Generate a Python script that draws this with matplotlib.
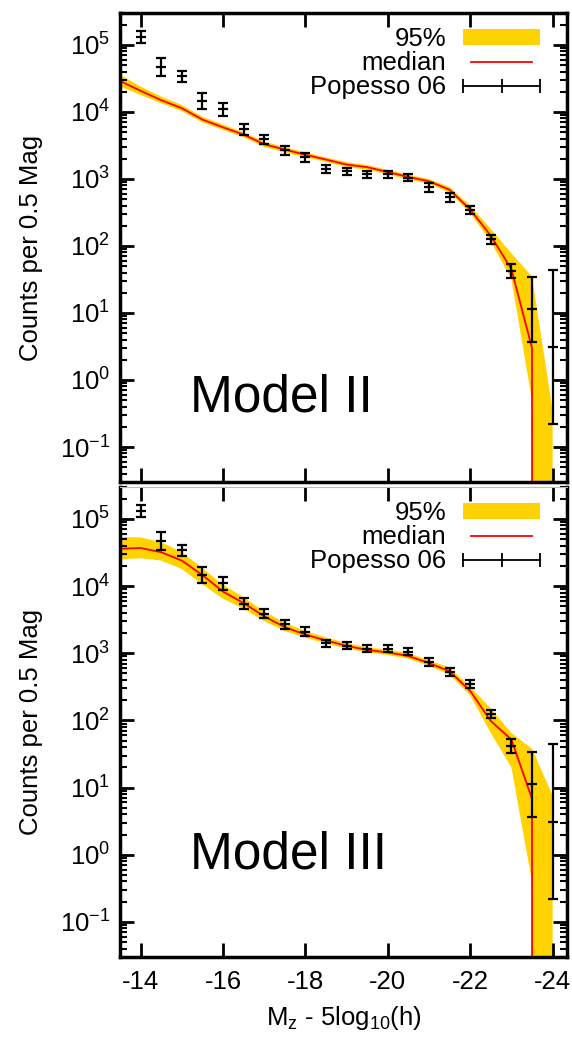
import numpy as np
import matplotlib
matplotlib.use("Agg")
import matplotlib.pyplot as plt
from matplotlib.patches import Patch
from matplotlib.lines import Line2D
from matplotlib.legend_handler import HandlerLine2D
from matplotlib.ticker import LogLocator, FixedLocator, NullFormatter

plt.rcParams['font.family'] = ['Liberation Sans', 'DejaVu Sans']
plt.rcParams['mathtext.fontset'] = 'custom'
plt.rcParams['mathtext.rm'] = 'Liberation Sans'
plt.rcParams['mathtext.it'] = 'Liberation Sans:italic'
plt.rcParams['mathtext.bf'] = 'Liberation Sans:bold'
plt.rcParams['axes.unicode_minus'] = False

# --- model luminosity functions (95% band + median) ---
model_mag = [-13.5, -14.0, -14.5, -15.0, -15.5, -16.0, -16.5, -17.0, -17.5, -18.0, -18.5,
             -19.0, -19.5, -20.0, -20.5, -21.0, -21.5, -22.0, -22.5, -23.0, -23.5, -24.0]

m2_lo = [2.4e4, 1.8e4, 1.35e4, 1.03e4, 7.0e3, 5.4e3, 4.2e3, 3.0e3, 2.5e3, 2.1e3, 1.8e3,
         1.5e3, 1.38e3, 1.17e3, 980, 850, 630, 310, 115, 32, 0.5, 0]
m2_med = [2.9e4, 2.07e4, 1.5e4, 1.14e4, 7.7e3, 5.9e3, 4.6e3, 3.3e3, 2.75e3, 2.3e3, 1.95e3,
          1.64e3, 1.5e3, 1.27e3, 1.07e3, 925, 690, 350, 142, 45, 3.0, 0]
m2_hi = [3.6e4, 2.4e4, 1.7e4, 1.27e4, 8.5e3, 6.5e3, 5.0e3, 3.6e3, 3.0e3, 2.5e3, 2.1e3,
         1.78e3, 1.62e3, 1.37e3, 1.16e3, 1.0e3, 760, 400, 180, 78, 35, 0.35]

m3_lo = [2.5e4, 2.6e4, 2.4e4, 1.8e4, 1.06e4, 6.5e3, 4.6e3, 3.0e3, 2.15e3, 1.7e3, 1.4e3,
         1.18e3, 1.03e3, 940, 830, 650, 480, 235, 65, 20, 0.4, 0]
m3_med = [3.6e4, 3.7e4, 3.2e4, 2.4e4, 1.46e4, 8.3e3, 5.6e3, 3.55e3, 2.45e3, 1.9e3, 1.55e3,
          1.29e3, 1.12e3, 1.03e3, 910, 716, 540, 275, 98, 52, 6.8, 0]
m3_hi = [5.4e4, 5.3e4, 4.5e4, 3.2e4, 1.85e4, 1.05e4, 6.8e3, 4.2e3, 2.85e3, 2.15e3, 1.72e3,
         1.42e3, 1.23e3, 1.13e3, 1.0e3, 790, 610, 320, 150, 65, 38, 7.6]

# --- Popesso et al. 2006 observed counts ---
pop_mag = [-14.0, -14.5, -15.0, -15.5, -16.0, -16.5, -17.0, -17.5, -18.0, -18.5, -19.0,
           -19.5, -20.0, -20.5, -21.0, -21.5, -22.0, -22.5, -23.0, -23.5, -24.0]
pop_n = [1.3e5, 4.7e4, 3.4e4, 1.45e4, 1.1e4, 5.5e3, 3.9e3, 2.7e3, 2.1e3, 1.4e3, 1.3e3,
         1.17e3, 1.17e3, 1.05e3, 750, 530, 350, 125, 42, 11.5, 3.1]
pop_lo = [1.06e5, 3.5e4, 2.8e4, 1.1e4, 8.7e3, 4.6e3, 3.3e3, 2.3e3, 1.8e3, 1.23e3, 1.15e3,
          1.03e3, 1.03e3, 930, 650, 460, 305, 108, 33, 3.7, 0.22]
pop_hi = [1.6e5, 6.3e4, 4.1e4, 1.9e4, 1.38e4, 6.6e3, 4.6e3, 3.1e3, 2.45e3, 1.6e3, 1.47e3,
          1.32e3, 1.32e3, 1.18e3, 860, 610, 400, 145, 53, 34, 44]

xticks = [-14, -16, -18, -20, -22, -24]
yticks = [1e-1, 1e0, 1e1, 1e2, 1e3, 1e4, 1e5]

band_color = '#FFD200'
fs = 18.5

fig = plt.figure(figsize=(5.72, 10.4), dpi=100)
ax_top = fig.add_axes([0.2098, 0.5365, 0.7815, 0.451])
ax_bot = fig.add_axes([0.2098, 0.0798, 0.7815, 0.452])

panels = [(ax_top, m2_lo, m2_med, m2_hi, 'Model II', 0.179),
          (ax_bot, m3_lo, m3_med, m3_hi, 'Model III', 0.217)]

pop_n_arr = np.array(pop_n)
yerr = [pop_n_arr - np.array(pop_lo), np.array(pop_hi) - pop_n_arr]

for ax, lo, med, hi, name, ty in panels:
    ax.set_yscale('log')
    ax.fill_between(model_mag, lo, hi, color=band_color, lw=0, zorder=1)
    ax.plot(model_mag, med, color='red', lw=1.3, zorder=2)
    ax.errorbar(pop_mag, pop_n, yerr=yerr, fmt='_', color='k', ms=7, mew=1.6,
                elinewidth=1.6, capsize=3.5, capthick=1.6, zorder=3)

    ax.set_xlim(-13.5, -24.35)
    ax.set_ylim(0.03, 3e5)
    ax.set_xticks(xticks)
    ax.yaxis.set_major_locator(FixedLocator(yticks))
    ax.yaxis.set_minor_locator(LogLocator(base=10, subs=np.arange(2, 10), numticks=20))
    ax.yaxis.set_minor_formatter(NullFormatter())
    ax.tick_params(which='both', direction='in', top=True, right=True, labelsize=fs)
    ax.tick_params(which='major', length=10, width=2, pad=7)
    ax.tick_params(which='minor', length=5, width=1.5)
    ax.tick_params(axis='x', pad=9)
    for sp in ax.spines.values():
        sp.set_linewidth(2.5)

    ax.set_ylabel('Counts per 0.5 Mag', fontsize=fs)
    ax.yaxis.set_label_coords(-0.172, 0.5)
    ax.text(0.157, ty, name, transform=ax.transAxes, fontsize=37, ha='left', va='center')

    handles = [Patch(facecolor=band_color, edgecolor='none', label='95%'),
               Line2D([], [], color='red', lw=1.3, label='median'),
               Line2D([], [], color='k', lw=1.3, marker='|', ms=10, mew=1.3,
                      label='Popesso 06')]
    ax.legend(handles=handles, loc='upper right', bbox_to_anchor=(0.94, 0.97),
              frameon=False, markerfirst=False, numpoints=3, fontsize=fs,
              handlelength=3.0, handleheight=0.55, handletextpad=0.65,
              labelspacing=0.0, borderpad=0, borderaxespad=0,
              handler_map={handles[2]: HandlerLine2D(marker_pad=0)})

ax_top.tick_params(axis='x', labelbottom=False)
ax_bot.spines['top'].set_linewidth(0.8)
ax_bot.spines['top'].set_color('#bbbbbb')

ax_bot.set_xlabel(r'M$_{\rm z}$ - 5log$_{10}$(h)', fontsize=fs)
ax_bot.xaxis.set_label_coords(0.5, -0.1)

fig.savefig('out.png', dpi=100)
